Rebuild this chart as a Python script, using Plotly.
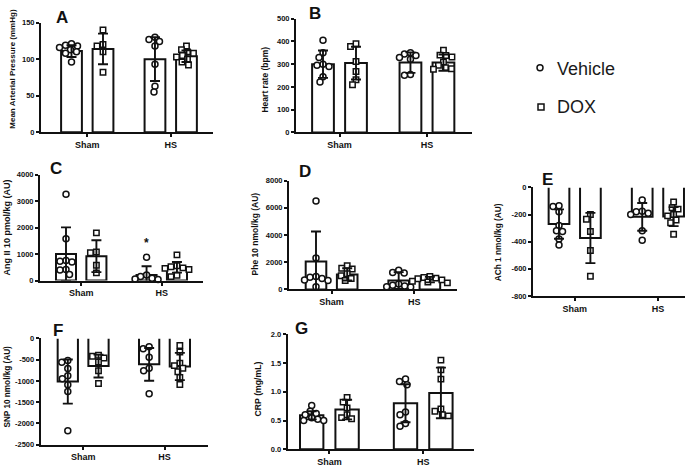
import plotly.graph_objects as go

W, H = 685, 468
FONT = "Arial, 'Liberation Sans', Helvetica, sans-serif"
GROUPS = ["Sham", "HS"]
TREATMENTS = ["Vehicle", "DOX"]

# ---------------- data (order: Sham-Vehicle, Sham-DOX, HS-Vehicle, HS-DOX) ----------------
# A: Mean arterial pressure (mmHg)
A_mean = [111, 114, 100, 104]
A_sd = [8, 21, 30, 8]
A_sham_veh = [121, 119, 118, 116, 113, 110, 108, 96]
A_sham_dox = [140, 120, 118, 110, 82]
A_hs_veh = [130, 127, 124, 118, 93, 63, 55]
A_hs_dox = [118, 113, 110, 108, 105, 103, 100, 96, 92]

# B: Heart rate (bpm)
B_mean = [300, 305, 307, 307]
B_sd = [60, 72, 45, 36]
B_sham_veh = [405, 350, 330, 300, 295, 290, 245, 222]
B_sham_dox = [390, 378, 312, 268, 232, 210]
B_hs_veh = [350, 345, 338, 330, 322, 255, 252]
B_hs_dox = [362, 340, 338, 332, 310, 295, 285, 280, 278]

# C: Ang II 10 pmol/kg (AU)
C_mean = [1000, 920, 210, 500]
C_sd = [1010, 600, 330, 200]
C_sham_veh = [3260, 1580, 760, 730, 700, 420, 400, 230]
C_sham_dox = [1800, 1080, 1050, 580, 290]
C_hs_veh = [880, 210, 150, 90, 60, 40]
C_hs_dox = [970, 560, 520, 480, 460, 420, 200, 150]
C_star_value = 1550

# D: Phe 10 nmol/kg (AU)
D_mean = [2050, 1100, 650, 720]
D_sd = [2200, 450, 620, 200]
D_sham_veh = [6500, 2300, 950, 900, 800, 700, 650, 200]
D_sham_dox = [1750, 1550, 1500, 1150, 1000, 800, 650]
D_hs_veh = [1400, 1250, 1200, 400, 300, 250, 200, 180]
D_hs_dox = [950, 880, 830, 780, 700, 600, 540, 480]

# E: ACh 1 nmol/kg (AU)
E_mean = [-270, -373, -217, -215]
E_sd = [108, 185, 102, 70]
E_sham_veh = [-135, -140, -180, -280, -320, -325, -380, -425]
E_sham_dox = [-200, -235, -325, -465, -655]
E_hs_veh = [-92, -175, -180, -190, -200, -320, -390]
E_hs_dox = [-108, -150, -160, -200, -210, -240, -260, -345]

# F: SNP 10 nmol/kg (AU)
F_mean = [-1015, -650, -610, -660]
F_sd = [520, 270, 385, 320]
F_sham_veh = [-520, -560, -710, -880, -950, -1090, -1250, -2170]
F_sham_dox = [-395, -420, -460, -555, -760, -1060]
F_hs_veh = [-195, -240, -440, -700, -760, -1300]
F_hs_dox = [-165, -320, -580, -640, -700, -785, -920, -1085]

# G: CRP (mg/mL)
G_mean = [0.59, 0.69, 0.80, 0.98]
G_sd = [0.07, 0.17, 0.33, 0.44]
G_sham_veh = [0.76, 0.66, 0.62, 0.60, 0.55, 0.52, 0.50, 0.50]
G_sham_dox = [0.90, 0.82, 0.72, 0.60, 0.55, 0.53]
G_hs_veh = [1.22, 1.18, 1.12, 0.65, 0.60, 0.45, 0.40]
G_hs_dox = [1.55, 1.38, 1.22, 0.70, 0.66, 0.60, 0.58]

# ---------------- layout geometry (pixels) ----------------
GAP = 2.65
XPOS = [0, 1, GAP, GAP + 1]
BARW = 0.66
GROUP_CENTERS = [0.5, GAP + 0.5]

panels = [
    dict(label="A", mean=A_mean, sd=A_sd, pts=[A_sham_veh, A_sham_dox, A_hs_veh, A_hs_dox],
         x0=41, x1=213, c0=71.5, u=31.5, ytop=19, ybot=130.7, yr=[0, 150],
         ticks=[0, 50, 100, 150], fmt="{:.0f}",
         title="Mean Arterial Pressure (mmHg)", tx=13, ty=66, tfs=8,
         lx=62, ly=14),
    dict(label="B", mean=B_mean, sd=B_sd, pts=[B_sham_veh, B_sham_dox, B_hs_veh, B_hs_dox],
         x0=296, x1=472, c0=323, u=33.0, ytop=15, ybot=131, yr=[0, 500],
         ticks=[0, 100, 200, 300, 400, 500], fmt="{:.0f}",
         title="Heart rate (bpm)", tx=265, ty=77, tfs=8.5,
         lx=315, ly=10),
    dict(label="C", mean=C_mean, sd=C_sd, pts=[C_sham_veh, C_sham_dox, C_hs_veh, C_hs_dox],
         x0=40, x1=203, c0=66, u=30.4, ytop=174, ybot=282, yr=[0, 4000],
         ticks=[0, 1000, 2000, 3000, 4000], fmt="{:.0f}",
         title="Ang II 10 pmol/kg (AU)", tx=7, ty=228, tfs=9,
         lx=56, ly=168),
    dict(label="D", mean=D_mean, sd=D_sd, pts=[D_sham_veh, D_sham_dox, D_hs_veh, D_hs_dox],
         x0=289, x1=457, c0=316, u=31.2, ytop=180, ybot=291, yr=[0, 8000],
         ticks=[0, 2000, 4000, 6000, 8000], fmt="{:.0f}",
         title="Phe 10 nmol/kg (AU)", tx=255, ty=235, tfs=8.5,
         lx=305, ly=171),
    dict(label="E", mean=E_mean, sd=E_sd, pts=[E_sham_veh, E_sham_dox, E_hs_veh, E_hs_dox],
         x0=533, x1=685, c0=559, u=31.4, ytop=187, ybot=297.7, yr=[-800, 0],
         ticks=[0, -200, -400, -600, -800], fmt="{:.0f}",
         title="ACh 1 nmol/kg (AU)", tx=498, ty=243, tfs=8.3,
         lx=547, ly=179),
    dict(label="F", mean=F_mean, sd=F_sd, pts=[F_sham_veh, F_sham_dox, F_hs_veh, F_hs_dox],
         x0=40.7, x1=208, c0=67.8, u=30.7, ytop=341, ybot=449.3, yr=[-2500, 0],
         ticks=[0, -500, -1000, -1500, -2000, -2500], fmt="{:.0f}",
         title="SNP 10 nmol/kg (AU)", tx=7, ty=390, tfs=8.2,
         lx=58, ly=333),
    dict(label="G", mean=G_mean, sd=G_sd, pts=[G_sham_veh, G_sham_dox, G_hs_veh, G_hs_dox],
         x0=287.7, x1=474, c0=311.7, u=35.4, ytop=336.7, ybot=454, yr=[0, 2.0],
         ticks=[0, 0.5, 1.0, 1.5, 2.0], fmt="{:.1f}",
         title="CRP (mg/mL)", tx=258, ty=393, tfs=8.7,
         lx=301, ly=331),
]

DIAM = 6.0


def swarm(vals, ypu, upx):
    """Deterministic beeswarm: horizontal offsets (data units) so markers don't overlap."""
    order = sorted(range(len(vals)), key=lambda i: -vals[i])
    placed = []
    res = [0.0] * len(vals)
    cands = sorted([k * 0.5 for k in range(-40, 41)], key=lambda v: (abs(v), v))
    for i in order:
        y = vals[i] * ypu
        for cx in cands:
            if all((cx - px) ** 2 + (y - py) ** 2 >= DIAM ** 2 for px, py in placed):
                placed.append((cx, y))
                res[i] = cx / upx
                break
    return res


BLACK = "#111111"
fig = go.Figure()
annotations = []
for k, p in enumerate(panels, start=1):
    sfx = "" if k == 1 else str(k)
    xref, yref = "x" + sfx, "y" + sfx
    negative = p["yr"][1] <= 0
    ypu = (p["ybot"] - p["ytop"]) / (p["yr"][1] - p["yr"][0])

    # bars
    fig.add_trace(go.Bar(
        x=XPOS, y=p["mean"], width=BARW, xaxis=xref, yaxis=yref,
        marker=dict(color="white", line=dict(color=BLACK, width=0 if negative else 2)),
        showlegend=False, hoverinfo="skip"))
    if negative:
        ox, oy = [], []
        for xc, m in zip(XPOS, p["mean"]):
            ox += [xc - BARW / 2, xc - BARW / 2, xc + BARW / 2, xc + BARW / 2, None]
            oy += [0, m, m, 0, None]
        fig.add_trace(go.Scatter(x=ox, y=oy, mode="lines", xaxis=xref, yaxis=yref,
                                 line=dict(color=BLACK, width=2), showlegend=False,
                                 hoverinfo="skip", cliponaxis=False))

    # individual points
    for j, vals in enumerate(p["pts"]):
        offs = swarm(vals, ypu, p["u"])
        fig.add_trace(go.Scatter(
            x=[XPOS[j] + o for o in offs], y=vals, mode="markers",
            xaxis=xref, yaxis=yref, cliponaxis=False,
            marker=dict(symbol="circle" if j % 2 == 0 else "square",
                        size=DIAM if j % 2 == 0 else DIAM - 0.6,
                        color="white", line=dict(color=BLACK, width=1.5)),
            name=TREATMENTS[j % 2], showlegend=False, hoverinfo="skip"))

    # error bars (mean ± SD)
    fig.add_trace(go.Scatter(
        x=XPOS, y=p["mean"], mode="markers", xaxis=xref, yaxis=yref, cliponaxis=False,
        marker=dict(size=1, color="rgba(0,0,0,0)"),
        error_y=dict(type="data", array=p["sd"], symmetric=True, color=BLACK,
                     thickness=1.9, width=5),
        showlegend=False, hoverinfo="skip"))

    r0 = (p["x0"] - p["c0"]) / p["u"]
    r1 = (p["x1"] - p["c0"]) / p["u"]
    fig.update_layout(**{
        "xaxis" + sfx: dict(
            domain=[p["x0"] / W, min(p["x1"] / W, 1.0)], range=[r0, r1], anchor=yref,
            showline=True, linecolor=BLACK, linewidth=2, showgrid=False, zeroline=False,
            tickvals=GROUP_CENTERS, ticktext=GROUPS, ticks="outside", ticklen=3,
            tickwidth=1.5, tickcolor=BLACK,
            tickfont=dict(family=FONT, size=9, color=BLACK, weight="bold"), fixedrange=True),
        "yaxis" + sfx: dict(
            domain=[1 - p["ybot"] / H, 1 - p["ytop"] / H], range=p["yr"], anchor=xref,
            showline=True, linecolor=BLACK, linewidth=2, showgrid=False, zeroline=False,
            tickvals=p["ticks"], ticktext=[p["fmt"].format(t) for t in p["ticks"]],
            ticks="outside", ticklen=3, tickwidth=1.5, tickcolor=BLACK,
            tickfont=dict(family=FONT, size=7.5, color=BLACK, weight="bold"), fixedrange=True),
    })

    annotations.append(dict(
        xref="paper", yref="paper", x=p["tx"] / W, y=1 - p["ty"] / H, text=p["title"],
        textangle=-90, showarrow=False, xanchor="center", yanchor="middle",
        font=dict(family=FONT, size=p["tfs"], color=BLACK, weight="bold")))
    annotations.append(dict(
        xref="paper", yref="paper", x=p["lx"] / W, y=1 - p["ly"] / H, text=p["label"],
        showarrow=False, xanchor="center", yanchor="middle",
        font=dict(family=FONT, size=17, color=BLACK, weight="bold")))

# significance asterisk in panel C (HS Vehicle)
annotations.append(dict(xref="x3", yref="y3", x=XPOS[2], y=C_star_value, text="*",
                        showarrow=False, yshift=-3,
                        font=dict(family=FONT, size=12, color=BLACK, weight="bold")))

# legend
annotations.append(dict(xref="paper", yref="paper", x=555 / W, y=1 - 66 / H, text="Vehicle",
                        showarrow=False, xanchor="left", yanchor="middle",
                        font=dict(family=FONT, size=18, color="#1a1a1a")))
annotations.append(dict(xref="paper", yref="paper", x=555 / W, y=1 - 105 / H, text="DOX",
                        showarrow=False, xanchor="left", yanchor="middle",
                        font=dict(family=FONT, size=18, color="#1a1a1a")))
shapes = [
    dict(type="circle", xref="paper", yref="paper", x0=537 / W, x1=543 / W,
         y0=1 - 68 / H, y1=1 - 62 / H, line=dict(color=BLACK, width=1.5)),
    dict(type="rect", xref="paper", yref="paper", x0=538 / W, x1=544 / W,
         y0=1 - 108 / H, y1=1 - 102 / H, line=dict(color=BLACK, width=1.5)),
]

fig.update_layout(
    width=W, height=H, margin=dict(l=0, r=0, t=0, b=0),
    paper_bgcolor="white", plot_bgcolor="white", barmode="overlay",
    showlegend=False, annotations=annotations, shapes=shapes,
    font=dict(family=FONT, color=BLACK),
)

fig.write_html("out.html", config={"displayModeBar": False},
               post_script="document.body.style.margin='0';document.body.style.overflow='hidden';")
